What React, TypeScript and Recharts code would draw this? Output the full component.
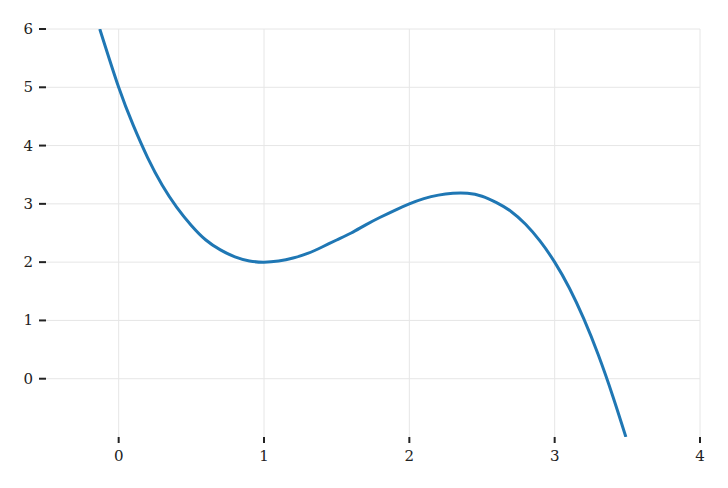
import { Line, LineChart, ReferenceLine, XAxis, YAxis } from "recharts";

const xValues = [
  -0.13, 0, 0.1, 0.2, 0.3, 0.4, 0.5, 0.6, 0.7, 0.8, 0.9, 1.0, 1.1, 1.2, 1.3, 1.4, 1.5, 1.6, 1.7, 1.8,
  1.9, 2.0, 2.1, 2.2, 2.3, 2.4, 2.5, 2.6, 2.7, 2.8, 2.9, 3.0, 3.1, 3.2, 3.3, 3.4, 3.49
];
const yValues = [
  6.0, 5.0, 4.35, 3.79, 3.32, 2.94, 2.63, 2.38, 2.21, 2.09, 2.02, 2.0, 2.02, 2.07, 2.15, 2.26, 2.38, 2.5,
  2.64, 2.77, 2.89, 3.0, 3.09, 3.15, 3.18, 3.18, 3.13, 3.02, 2.87, 2.65, 2.36, 2.0, 1.56, 1.03, 0.41,
  -0.3, -1.0
];
const xTicks = [0, 1, 2, 3, 4];
const yTicks = [0, 1, 2, 3, 4, 5, 6];

const data = xValues.map((x, i) => ({ x, y: yValues[i] }));

const labelStyle = { fontFamily: "DejaVu Serif", fontSize: "15px", fill: "#222" };

function XTick(props: any) {
  const { x, y, payload } = props;
  return (
    <text x={x} y={y} dy={14} textAnchor="middle" style={labelStyle}>
      {payload.value}
    </text>
  );
}

function YTick(props: any) {
  const { x, y, payload } = props;
  return (
    <text x={x} y={y} dy={5} textAnchor="end" style={labelStyle}>
      {payload.value}
    </text>
  );
}

export default function App() {
  return (
    <div style={{ position: "absolute", left: 0, top: 0, width: 728, height: 488, background: "#fff" }}>
      <LineChart width={728} height={488} data={data} margin={{ top: 29, right: 28, left: 0, bottom: 0 }}>
        {yTicks.map((t) => (
          <ReferenceLine key={"h" + t} y={t} stroke="#e6e6e6" strokeWidth={1} />
        ))}
        {xTicks.map((t) => (
          <ReferenceLine key={"v" + t} x={t} stroke="#e6e6e6" strokeWidth={1} />
        ))}
        <XAxis
          dataKey="x"
          type="number"
          domain={[-0.5, 4]}
          ticks={xTicks}
          allowDataOverflow
          height={51}
          axisLine={false}
          tickLine={{ stroke: "#222", strokeWidth: 2 }}
          tickSize={6}
          tickMargin={4}
          tick={<XTick />}
        />
        <YAxis
          type="number"
          domain={[-1, 6]}
          ticks={yTicks}
          allowDataOverflow
          width={46}
          axisLine={false}
          tickLine={{ stroke: "#222", strokeWidth: 2 }}
          tickSize={7}
          tickMargin={6}
          tick={<YTick />}
        />
        <Line
          dataKey="y"
          type="natural"
          stroke="#1f77b4"
          strokeWidth={3}
          dot={false}
          isAnimationActive={false}
        />
      </LineChart>
    </div>
  );
}
